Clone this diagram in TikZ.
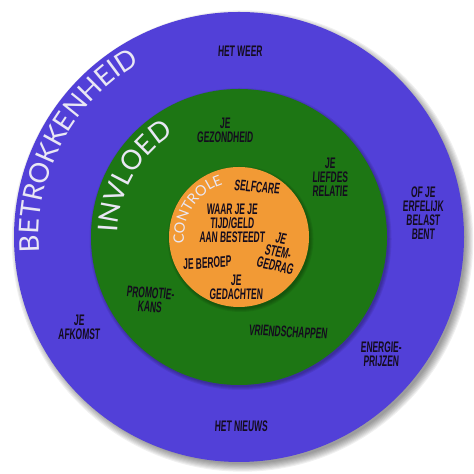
\documentclass[tikz,border=0pt]{standalone}
\usepackage{fontspec}
\newfontfamily\handfont{Liberation Sans}[FakeStretch=0.55, FakeSlant=0.06]
\newfontfamily\ringfont{Lato}
\usepackage{xcolor}
\definecolor{BETcolor}{HTML}{5240D8}
\definecolor{INVcolor}{HTML}{1D7614}
\definecolor{CONcolor}{HTML}{F29A35}
\definecolor{RINGtext}{HTML}{E9E7F4}
\definecolor{ITEMtext}{HTML}{140C1E}
\usepackage{tikz}
\usetikzlibrary{math, decorations.text}

\begin{document}
\begin{tikzpicture}

    \tikzset{%
        item/.style={font=\handfont\bfseries\fontsize{8.7}{8}\selectfont, text=ITEMtext, align=center, inner sep=0pt},
        ringtitle/.style={decorate, decoration={text along path, text align=center, text color=RINGtext}}
    }

    \tikzmath{%
        \rB=4.50;
        \rI=2.96;
        \rC=1.40;
    }

    \useasboundingbox (0, 0) rectangle (9.48, 9.48);
    \coordinate (centre) at (4.78, 4.74);

    % soft shadow of the outer disc
    \foreach \s in {0, ..., 7} {%
            \fill [black, opacity=0.06] ([shift={(0.07, -0.08)}]centre) circle[radius=\rB-0.04+0.022*\s];
        }
    \fill [BETcolor] (centre) circle[radius=\rB];

    \foreach \s in {0, ..., 3} {%
            \fill [black, opacity=0.07] ([shift={(0.03, -0.04)}]centre) circle[radius=\rI+0.02*\s];
        }
    \fill [INVcolor] (centre) circle[radius=\rI];

    \foreach \s in {0, ..., 3} {%
            \fill [black, opacity=0.07] ([shift={(0.03, -0.04)}]centre) circle[radius=\rC+0.02*\s];
        }
    \fill [CONcolor] (centre) circle[radius=\rC];

    % ring titles
    \path [ringtitle, decoration={text={|\ringfont\fontsize{15.5}{15.5}\selectfont|BETROKKENHEID}}]
    ([shift={(200:4.00)}]centre) arc[start angle=200, end angle=104, radius=4.00];
    \path [ringtitle, decoration={text={|\ringfont\fontsize{15.5}{15.5}\selectfont|INVLOED}}]
    ([shift={(200:2.44)}]centre) arc[start angle=200, end angle=100, radius=2.44];
    \path [ringtitle, decoration={text={|\ringfont\fontsize{8.2}{8.2}\selectfont|CONTROLE}}]
    ([shift={(197:1.10)}]centre) arc[start angle=197, end angle=97, radius=1.10];

    % betrokkenheid
    \node [item] (weer) at (4.80, 8.46) {HET WEER};
    \node [item] (erfelijk) at (8.46, 5.22) {OF JE\\ERFELIJK\\BELAST\\BENT};
    \node [item] (afkomst) at (1.58, 2.94) {JE\\AFKOMST};
    \node [item] (energie) at (7.62, 2.40) {ENERGIE-\\PRIJZEN};
    \node [item] (nieuws) at (4.82, 0.96) {HET NIEUWS};

    % invloed
    \node [item] (gezondheid) at (4.50, 6.88) {JE\\GEZONDHEID};
    \node [item] (liefdes) at (6.60, 5.94) {JE\\LIEFDES\\RELATIE};
    \node [item, rotate=-3] (promotie) at (3.00, 3.48) {PROMOTIE-\\KANS};
    \node [item, rotate=-3] (vriendschappen) at (5.76, 2.84) {VRIENDSCHAPPEN};

    % controle
    \node [item, rotate=-5] (selfcare) at (5.14, 5.74) {SELFCARE};
    \node [item] (besteedt) at (4.64, 5.02) {WAAR JE JE\\TIJD/GELD\\AAN BESTEEDT};
    \node [item, rotate=-12] (stemgedrag) at (5.56, 4.44) {JE\\STEM-\\GEDRAG};
    \node [item, rotate=4] (beroep) at (4.14, 4.22) {JE BEROEP};
    \node [item] (gedachten) at (4.72, 3.74) {JE\\GEDACHTEN};

\end{tikzpicture}
\end{document}
